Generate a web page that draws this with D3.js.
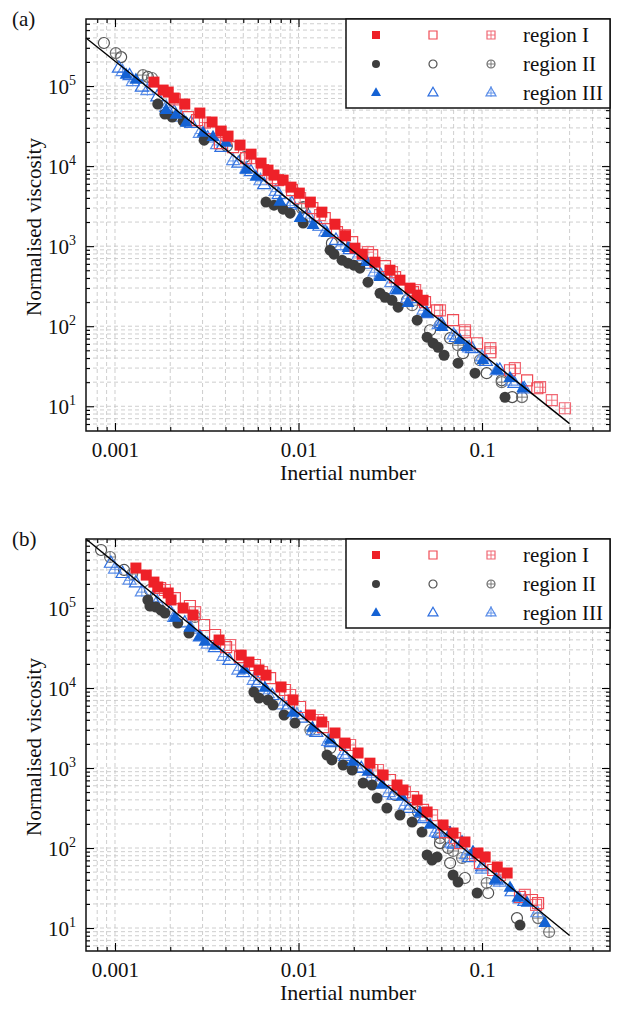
<!DOCTYPE html>
<html>
<head>
<meta charset="utf-8">
<script src="https://cdn.jsdelivr.net/npm/d3@7"></script>
<style>body{margin:0;background:#fff;}</style>
</head>
<body>
<div id="chart"></div>
<script>
// axis ticks and labels
const xMajor = [0.001, 0.01, 0.1];
const xMajorLabels = ["0.001", "0.01", "0.1"];
const yMajor = [1e1, 1e2, 1e3, 1e4, 1e5];
const yExponents = ["1", "2", "3", "4", "5"];
const legendLabels = ["region I", "region II", "region III"];

// ---- panel (a) : [inertial number, normalised viscosity]
const aRegionIFilled = [[0.00163,1.12e5],[0.00183,8.91e4],[0.00195,8.41e4],[0.0021,7.08e4],[0.0024,5.96e4],[0.0029,4.6e4],[0.00338,3.55e4],[0.00379,2.74e4],[0.00413,2.37e4],[0.0048,1.83e4],[0.00551,1.41e4],[0.00625,1.09e4],[0.00682,8910],[0.00735,7720],[0.00824,6680],[0.0091,5460],[0.0101,4600],[0.0116,3550],[0.0134,2660],[0.0158,1880],[0.018,1350],[0.0203,944],[0.0222,794],[0.0261,631],[0.0315,501],[0.0357,376],[0.0405,299],[0.0443,244],[0.0477,211]];
const aRegionIOpen = [[0.0025,4.1e4],[0.0028,3.76e4],[0.0033,2.99e4],[0.00373,1.94e4],[0.0044,1.73e4],[0.00518,1.26e4],[0.00641,8910],[0.00773,6680],[0.00922,5010],[0.0119,2990],[0.0139,2240],[0.0162,1500],[0.0196,1120],[0.0252,772],[0.0296,562],[0.0336,410],[0.0421,266],[0.0489,200],[0.0569,158],[0.0695,119],[0.0807,84.1],[0.0939,61.3],[0.111,47.3],[0.142,28.2],[0.176,21.1],[0.2,16.8]];
const aRegionICross = [[0.00212,6.8e4],[0.00309,3.5e4],[0.00403,2.11e4],[0.00544,1.26e4],[0.00718,7080],[0.0102,3980],[0.0131,2440],[0.0179,1370],[0.0239,841],[0.0323,473],[0.0432,282],[0.059,158],[0.0807,89.1],[0.111,53.1],[0.151,29.9],[0.207,17.3],[0.24,11.9],[0.283,9.44]];
const aRegionIIFilled = [[0.00171,5.96e4],[0.00187,4.47e4],[0.00205,4.1e4],[0.00235,3.65e4],[0.00306,2.11e4],[0.00665,3550],[0.00735,3250],[0.00824,2900],[0.009,2580],[0.0106,1940],[0.01486,891],[0.0156,794],[0.01726,668],[0.0186,613],[0.02,579],[0.0216,531],[0.0239,355],[0.0278,258],[0.0296,230],[0.0323,211],[0.0349,173],[0.0443,119],[0.0502,72.9],[0.0541,61.3],[0.0576,54.6],[0.0621,43.4],[0.074,34.5],[0.0916,25.9],[0.1334,12.96]];
const aRegionIIOpen = [[0.00087,3.45e5],[0.00108,2.3e5],[0.00151,1.3e5],[0.00407,1.78e4],[0.0051,1.3e4],[0.0106,3070],[0.0152,1090],[0.039,211],[0.0521,89.1],[0.067,70.8],[0.0788,46],[0.106,25.9],[0.128,21.1],[0.146,13]];
const aRegionIICross = [[0.00101,2.58e5],[0.00142,1.37e5],[0.00159,1.26e5],[0.0104,2990],[0.0416,183],[0.059,103],[0.074,57.9],[0.0975,37.6],[0.128,20],[0.165,13]];
const aRegionIIIFilled = [[0.00115,1.37e5],[0.0013,1.19e5],[0.0019,5.0e4],[0.00215,4.34e4],[0.00244,3.45e4],[0.00302,2.59e4],[0.00342,2.3e4],[0.00403,1.94e4],[0.00518,8910],[0.00586,7290],[0.00792,3550],[0.0102,2240],[0.012,1830],[0.0143,1450],[0.0186,944],[0.0236,631],[0.0278,410],[0.0344,282],[0.0395,194],[0.0502,145],[0.0605,97.2],[0.0759,66.8],[0.0828,54.6],[0.101,37.6],[0.121,28.2],[0.142,22.4],[0.167,16.8]];
const aRegionIIIOpen = [[0.00105,1.66e5],[0.0012,1.34e5],[0.0014,9.64e4],[0.0017,7.26e4],[0.0021,4.7e4],[0.0026,3.4e4],[0.0032,2.23e4],[0.0038,1.7e4],[0.0047,1.08e4],[0.0055,8470],[0.0065,5820],[0.0078,4380],[0.0092,3380],[0.011,2280],[0.013,1760],[0.016,1175],[0.019,897],[0.023,590],[0.028,432],[0.034,283],[0.041,220],[0.05,143],[0.06,107],[0.072,71.8],[0.088,52.1],[0.105,36.1],[0.125,28.1],[0.15,19.2],[0.17,16.4]];
const aRegionIIICross = [[0.0011,1.5e5],[0.00125,1.13e5],[0.0015,8.69e4],[0.0019,5.38e4],[0.0023,4.06e4],[0.0029,2.55e4],[0.0036,1.84e4],[0.0044,1.16e4],[0.0052,9160],[0.0062,6520],[0.0075,4800],[0.009,3210],[0.0115,2240],[0.014,1500],[0.017,1010],[0.021,733],[0.026,472],[0.032,347],[0.039,220],[0.048,158],[0.058,104],[0.07,77.3],[0.085,53.1],[0.1,41.2],[0.12,27.6],[0.145,20.5]];
const aFitLine = [[0.000695,3.98e5],[0.3,6.07]];

// ---- panel (b)
const bRegionIFilled = [[0.0013,3.16e5],[0.00148,2.58e5],[0.00163,2.11e5],[0.00171,1.83e5],[0.00195,1.54e5],[0.00202,1.26e5],[0.00235,1.0e5],[0.00266,8.18e4],[0.00369,3.98e4],[0.00487,2.58e4],[0.00537,2.11e4],[0.00609,1.68e4],[0.00665,1.45e4],[0.00803,1.03e4],[0.00933,7080],[0.0116,4600],[0.0134,3760],[0.0158,2740],[0.0179,2050],[0.0211,1540],[0.0245,1150],[0.0289,818],[0.0344,613],[0.0371,531],[0.0443,398],[0.0502,282],[0.0613,194],[0.0695,154],[0.0807,119],[0.095,86.6],[0.104,77.2],[0.121,57.9],[0.137,48.7]];
const bRegionIOpen = [[0.00176,1.78e5],[0.00212,1.33e5],[0.00256,1.06e5],[0.00306,6.13e4],[0.00351,4.6e4],[0.00403,3.25e4],[0.0048,2.44e4],[0.00579,1.94e4],[0.007,1.33e4],[0.00844,9440],[0.0102,5790],[0.0136,3250],[0.0179,1940],[0.0252,944],[0.0315,708],[0.0421,434],[0.0477,299],[0.0628,158],[0.0759,115],[0.0975,64.9],[0.115,53.1],[0.161,24.4],[0.187,22.4],[0.202,20.5]];
const bRegionICross = [[0.00187,1.68e5],[0.00273,8.91e4],[0.00424,3.45e4],[0.00633,1.58e4],[0.009,8180],[0.0128,3980],[0.0191,1940],[0.0271,944],[0.038,501],[0.0534,258],[0.0713,133],[0.0916,81.8],[0.125,46],[0.171,25.9],[0.197,19.4]];
const bRegionIIFilled = [[0.00151,1.26e5],[0.00155,1.06e5],[0.00167,1.03e5],[0.00178,9.44e4],[0.00187,8.66e4],[0.0022,6.49e4],[0.00253,4.87e4],[0.00571,8910],[0.00609,7500],[0.00682,7080],[0.00726,6130],[0.00834,4600],[0.00957,3650],[0.0143,1450],[0.0152,1260],[0.0175,1090],[0.0196,944],[0.0225,649],[0.0252,613],[0.0268,422],[0.0303,316],[0.0357,258],[0.0416,211],[0.0471,158],[0.0502,81.8],[0.0534,70.8],[0.0569,77.2],[0.0695,46],[0.074,37.6],[0.094,27.4],[0.161,10.9]];
const bRegionIIOpen = [[0.00084,5.31e5],[0.00112,2.99e5],[0.00155,1.68e5],[0.0149,1780],[0.0336,460],[0.0448,282],[0.059,115],[0.0653,100],[0.067,64.9],[0.0807,42.2],[0.108,27.4],[0.155,13.3]];
const bRegionIICross = [[0.00094,4.34e5],[0.00124,2.66e5],[0.00273,7.72e4],[0.0116,2990],[0.0349,531],[0.059,133],[0.0695,91.7],[0.0778,75],[0.106,36.5],[0.202,13.3],[0.232,8.91]];
const bRegionIIIFilled = [[0.00212,7.5e4],[0.00256,5.62e4],[0.0029,4.34e4],[0.00309,3.76e4],[0.00351,3.35e4],[0.0051,1.68e4],[0.00656,1.0e4],[0.00933,4870],[0.0119,3160],[0.0149,2240],[0.0198,1190],[0.0239,891],[0.0285,613],[0.0366,434],[0.0459,274],[0.0521,194],[0.067,154],[0.0778,119],[0.0893,89.1],[0.118,39.8],[0.142,31.6],[0.157,23.7],[0.176,20.5],[0.22,11.5]];
const bRegionIIIOpen = [[0.00095,3.6e5],[0.0011,2.68e5],[0.0013,2.05e5],[0.0016,1.32e5],[0.002,8.89e4],[0.0024,6.46e4],[0.0029,4.33e4],[0.0035,3.18e4],[0.0042,2.2e4],[0.005,1.55e4],[0.006,1.15e4],[0.0072,8000],[0.0086,5470],[0.0103,4170],[0.0125,2770],[0.015,2060],[0.018,1390],[0.022,980],[0.027,635],[0.033,455],[0.04,310],[0.048,231],[0.058,151],[0.07,111],[0.085,75.3],[0.1,57.9],[0.12,39.3],[0.145,28.2],[0.17,21.4]];
const bRegionIIICross = [[0.001,3.05e5],[0.0012,2.22e5],[0.0014,1.58e5],[0.0017,1.18e5],[0.0021,7.57e4],[0.0026,5.42e4],[0.0032,3.51e4],[0.0039,2.47e4],[0.0047,1.66e4],[0.0057,1.24e4],[0.0068,8470],[0.0082,6110],[0.0098,4580],[0.012,2920],[0.0145,2140],[0.0175,1470],[0.021,995],[0.025,767],[0.031,490],[0.038,341],[0.046,244],[0.056,157],[0.068,114],[0.082,82.2],[0.1,54.1],[0.125,37.2],[0.16,22.9],[0.2,15.4]];
const bFitLine = [[0.000695,7.28e5],[0.3,8.05]];

const W = 617, H = 1009;
const font = "'Liberation Serif', 'Times New Roman', Times, serif";

// marker styles for the 3x3 legend grid (rows: region, columns: filled/open/crossed)
const markerStyles = [
	[{shape: "square", kind: "filled", color: "#ee2128"}, {shape: "square", kind: "open", color: "#f04b55"}, {shape: "square", kind: "cross", color: "#f06874"}],
	[{shape: "circle", kind: "filled", color: "#3d3d3d"}, {shape: "circle", kind: "open", color: "#505050"}, {shape: "circle", kind: "cross", color: "#707070"}],
	[{shape: "triangle", kind: "filled", color: "#1462d4"}, {shape: "triangle", kind: "open", color: "#2e6fe0"}, {shape: "triangle", kind: "cross", color: "#5c8ee8"}]
];

const svg = d3.select("#chart").append("svg")
	.attr("width", W)
	.attr("height", H);

const x = d3.scaleLog().domain([0.000695, 0.498]).range([86, 610]);

function drawMarker(g, st, w) {
	let area, type;
	if (st.shape === "square") { type = d3.symbolSquare; area = w * w; }
	else if (st.shape === "circle") { type = d3.symbolCircle; area = Math.PI * w * w / 4; }
	else { type = d3.symbolTriangle; area = Math.sqrt(3) / 4 * w * w; }

	g.append("path")
		.attr("d", d3.symbol(type, area)())
		.attr("fill", st.kind === "filled" ? st.color : "none")
		.attr("stroke", st.color)
		.attr("stroke-width", st.kind === "filled" ? 0 : 1.2);

	if (st.kind !== "cross") return;
	let segs;
	if (st.shape === "triangle") {
		const r = Math.sqrt(area / (3 * Math.sqrt(3)));
		segs = [[0, -2 * r - 1, 0, r + 1], [-1.155 * r - 1, 0, 1.155 * r + 1, 0]];
	} else {
		const h = w / 2;
		segs = [[-h, 0, h, 0], [0, -h, 0, h]];
	}
	segs.forEach(s => {
		g.append("line")
			.attr("x1", s[0]).attr("y1", s[1]).attr("x2", s[2]).attr("y2", s[3])
			.attr("stroke", st.color).attr("stroke-width", 0.9);
	});
}

function drawPanel(p) {
	const y = d3.scaleLog().domain(p.yDomain).range([p.bottom, p.top]);
	const g = svg.append("g");

	// dashed grid at every major and minor tick
	const xt = x.ticks().filter(d => x(d) > 87 && x(d) < 609);
	const yt = y.ticks().filter(d => y(d) > p.top + 1 && y(d) < p.bottom - 1);
	g.append("g").selectAll("line").data(xt).join("line")
		.attr("x1", d => x(d)).attr("x2", d => x(d))
		.attr("y1", p.top).attr("y2", p.bottom)
		.attr("stroke", "#c2c2c2").attr("stroke-width", 0.8)
		.attr("stroke-dasharray", "4,3");
	g.append("g").selectAll("line").data(yt).join("line")
		.attr("x1", 86).attr("x2", 610)
		.attr("y1", d => y(d)).attr("y2", d => y(d))
		.attr("stroke", "#c2c2c2").attr("stroke-width", 0.8)
		.attr("stroke-dasharray", "4,3");

	// scatter series, back to front
	const order = [[1, 1], [1, 2], [2, 2], [2, 1], [0, 2], [0, 1], [1, 0], [2, 0], [0, 0]];
	order.forEach(([r, c]) => {
		const st = markerStyles[r][c];
		g.append("g").selectAll("g").data(p.series[r][c]).join("g")
			.attr("transform", d => "translate(" + x(d[0]) + "," + y(d[1]) + ")")
			.each(function() { drawMarker(d3.select(this), st, st.shape === "triangle" ? 13 : 11); });
	});

	// power-law fit
	g.append("path")
		.datum(p.fit)
		.attr("d", d3.line().x(d => x(d[0])).y(d => y(d[1])))
		.attr("fill", "none")
		.attr("stroke", "#000")
		.attr("stroke-width", 1.4);

	// axes, ticks pointing inward on all four sides
	const xMinor = xt.filter(d => !xMajor.includes(d));
	const yMinor = yt.filter(d => !yMajor.includes(d));
	const axes = [
		[d3.axisBottom, "translate(0," + p.bottom + ")", x, xMajor, xMinor],
		[d3.axisTop, "translate(0," + p.top + ")", x, xMajor, xMinor],
		[d3.axisLeft, "translate(86,0)", y, yMajor, yMinor],
		[d3.axisRight, "translate(610,0)", y, yMajor, yMinor]
	];
	axes.forEach(([axisFn, tr, sc, major, minor], i) => {
		const ax = g.append("g").attr("transform", tr);
		ax.append("g").call(axisFn(sc).tickValues(minor).tickSize(-4).tickFormat(""));
		const mj = ax.append("g").call(axisFn(sc).tickValues(major).tickSize(-8).tickPadding(11)
			.tickFormat(i === 0 ? (d, k) => xMajorLabels[k] : ""));
		ax.selectAll(".domain").remove();
		ax.selectAll("line").attr("stroke-width", 1.1);
		mj.selectAll("text").attr("font-family", font).attr("font-size", 21).attr("fill", "#111");
	});

	// y tick labels as powers of ten
	g.append("g").selectAll("text").data(yMajor).join("text")
		.attr("x", 76)
		.attr("y", d => y(d) + 8)
		.attr("text-anchor", "end")
		.attr("font-family", font)
		.attr("font-size", 21)
		.attr("fill", "#111")
		.each(function(d, i) {
			const t = d3.select(this);
			t.append("tspan").text("10");
			t.append("tspan").attr("dy", -9).attr("font-size", 14).text(yExponents[i]);
		});

	// frame
	g.append("rect")
		.attr("x", 86).attr("y", p.top)
		.attr("width", 524).attr("height", p.bottom - p.top)
		.attr("fill", "none").attr("stroke", "#111").attr("stroke-width", 1.5);

	// axis titles
	g.append("text")
		.attr("x", 348).attr("y", p.bottom + 49)
		.attr("text-anchor", "middle")
		.attr("font-family", font).attr("font-size", 22).attr("fill", "#111")
		.text("Inertial number");
	g.append("text")
		.attr("transform", "translate(41," + ((p.top + p.bottom) / 2 + 2) + ") rotate(-90)")
		.attr("text-anchor", "middle")
		.attr("font-family", font).attr("font-size", 21).attr("fill", "#111")
		.text("Normalised viscosity");
	g.append("text")
		.attr("x", 12).attr("y", p.top + 7)
		.attr("font-family", font).attr("font-size", 21).attr("fill", "#111")
		.text(p.label);

	// legend
	const lg = g.append("g").attr("transform", "translate(346," + p.top + ")");
	lg.append("rect")
		.attr("width", 264).attr("height", 89)
		.attr("fill", "#fff").attr("stroke", "#111").attr("stroke-width", 1.5);
	const colX = [30, 87, 145];
	legendLabels.forEach((lab, r) => {
		const cy = 16 + r * 29;
		markerStyles[r].forEach((st, c) => {
			const mg = lg.append("g").attr("transform", "translate(" + colX[c] + "," + cy + ")");
			drawMarker(mg, st, st.shape === "triangle" ? 10 : 8);
		});
		lg.append("text")
			.attr("x", 177).attr("y", cy + 7)
			.attr("font-family", font).attr("font-size", 21).attr("fill", "#111")
			.text(lab);
	});
}

drawPanel({
	label: "(a)", top: 19, bottom: 431, yDomain: [4.91, 6.88e5], fit: aFitLine,
	series: [[aRegionIFilled, aRegionIOpen, aRegionICross],
		[aRegionIIFilled, aRegionIIOpen, aRegionIICross],
		[aRegionIIIFilled, aRegionIIIOpen, aRegionIIICross]]
});
drawPanel({
	label: "(b)", top: 539, bottom: 951, yDomain: [5.16, 7.29e5], fit: bFitLine,
	series: [[bRegionIFilled, bRegionIOpen, bRegionICross],
		[bRegionIIFilled, bRegionIIOpen, bRegionIICross],
		[bRegionIIIFilled, bRegionIIIOpen, bRegionIIICross]]
});
</script>
</body>
</html>
